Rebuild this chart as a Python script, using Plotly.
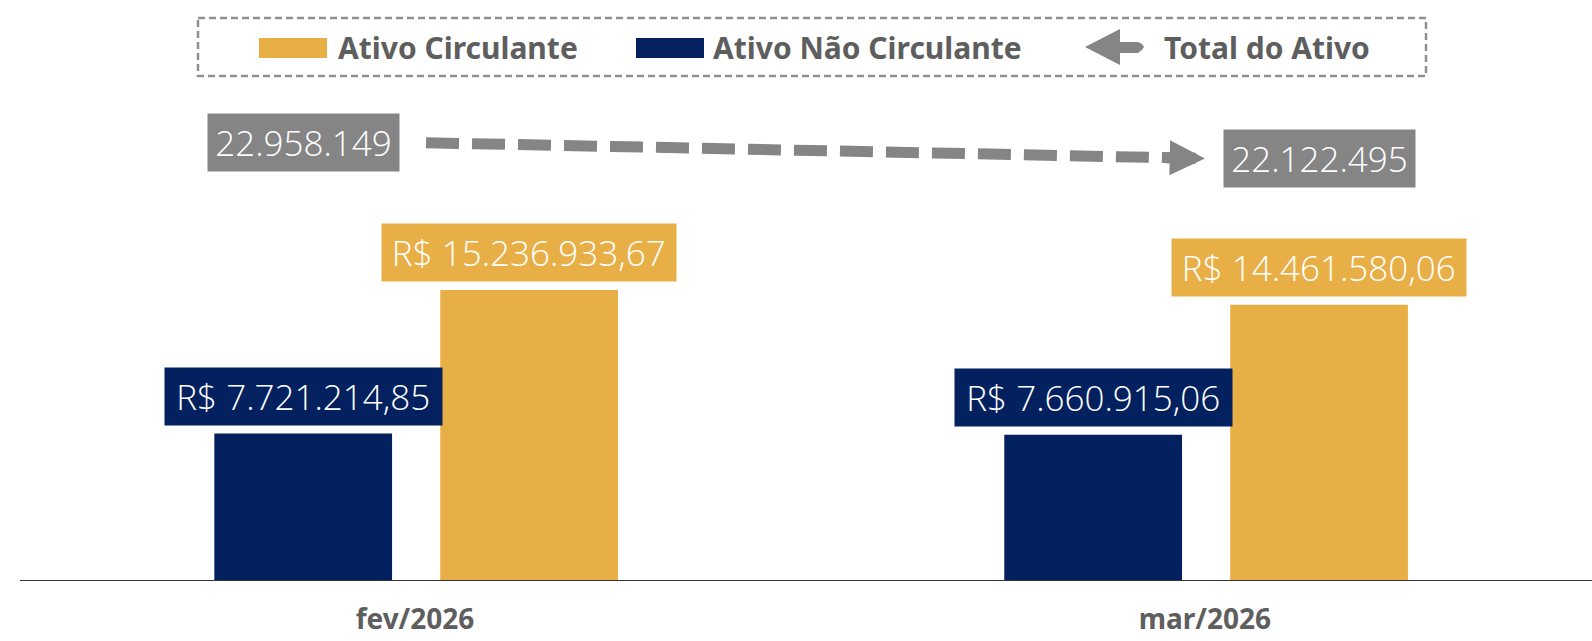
import plotly.graph_objects as go

categories = ["fev/2026", "mar/2026"]
ativo_nao_circulante = [7721214.85, 7660915.06]
ativo_circulante = [15236933.67, 14461580.06]
total_ativo = [22958149, 22122495]

label_nc = ["R$ 7.721.214,85", "R$ 7.660.915,06"]
label_c = ["R$ 15.236.933,67", "R$ 14.461.580,06"]
label_total = ["22.958.149", "22.122.495"]

NAVY = "#03215F"
GOLD = "#E9AF47"
GRAY = "#858585"
TEXT_GRAY = "#5E5E5E"
FONT = "Noto Sans"
LFONT = "Open Sans"

W, H = 1592, 641
ML, MR, MT, MB = 20, 0, 0, 60
PW = W - ML - MR
PH = H - MT - MB

def xp(px):
    return (px - ML) / PW

def yp(py):
    return (H - MB - py) / PH

xs = list(range(len(categories)))
bw = 0.225
off_nc = -0.254
off_c = 0.032

fig = go.Figure()
fig.add_trace(go.Bar(x=xs, y=ativo_nao_circulante, width=bw, offset=off_nc,
                     marker=dict(color=NAVY, line=dict(width=0)), showlegend=False))
fig.add_trace(go.Bar(x=xs, y=ativo_circulante, width=bw, offset=off_c,
                     marker=dict(color=GOLD, line=dict(width=0)), showlegend=False))

# Total line (dashed) from first to second month
def interp(x):
    return total_ativo[0] + (total_ativo[1] - total_ativo[0]) * x
x0, x1 = 0.014, 0.958
fig.add_trace(go.Scatter(x=[x0, x1], y=[interp(x0), interp(x1)], mode="lines",
                         line=dict(color=GRAY, width=11, dash="33px,13px"),
                         showlegend=False, hoverinfo="skip"))

ann = []
# arrow head at the second total
ann.append(dict(x=1, y=total_ativo[1], ax=-40, ay=-0.8, text="", showarrow=True,
                arrowhead=2, arrowwidth=11, arrowsize=0.64, arrowcolor=GRAY, standoff=0))

def box_width(t):
    return 17.1 * len(t) + 10

for i in xs:
    cx_nc = i + off_nc + bw / 2
    cx_c = i + off_c + bw / 2
    ann.append(dict(x=cx_nc, y=ativo_nao_circulante[i], yshift=37, text=label_nc[i],
                    showarrow=False, bgcolor=NAVY, borderpad=5, width=box_width(label_nc[i]),
                    font=dict(family=LFONT, size=35, color="white", weight=300)))
    ann.append(dict(x=cx_c, y=ativo_circulante[i], yshift=37, text=label_c[i],
                    showarrow=False, bgcolor=GOLD, borderpad=5, width=box_width(label_c[i]),
                    font=dict(family=LFONT, size=35, color="white", weight=300)))
# total labels
ann.append(dict(x=0 + off_nc + bw / 2, y=total_ativo[0], text=label_total[0], showarrow=False,
                bgcolor=GRAY, borderpad=5, width=box_width(label_total[0]),
                font=dict(family=LFONT, size=35, color="white", weight=300)))
ann.append(dict(x=1 + off_c + bw / 2, y=total_ativo[1], text=label_total[1], showarrow=False,
                bgcolor=GRAY, borderpad=5, width=box_width(label_total[1]),
                font=dict(family=LFONT, size=35, color="white", weight=300)))

# Legend (manual)
legend_items = ["Ativo Circulante", "Ativo Não Circulante", "Total do Ativo"]
legend_text_x = [336, 711, 1162]
for t, lx in zip(legend_items, legend_text_x):
    ann.append(dict(xref="paper", yref="paper", x=xp(lx), y=yp(48), xanchor="left", yanchor="middle",
                    text="<b>" + t + "</b>", showarrow=False,
                    font=dict(family=FONT, size=30, color=TEXT_GRAY)))

shapes = [
    dict(type="rect", xref="paper", yref="paper", x0=xp(198), x1=xp(1426), y0=yp(18), y1=yp(76),
         line=dict(color="#8F8F8F", width=2.5, dash="7px,4px"), fillcolor="rgba(0,0,0,0)"),
    dict(type="rect", xref="paper", yref="paper", x0=xp(259), x1=xp(327), y0=yp(38), y1=yp(58),
         line=dict(width=0), fillcolor=GOLD),
    dict(type="rect", xref="paper", yref="paper", x0=xp(636), x1=xp(704), y0=yp(38), y1=yp(58),
         line=dict(width=0), fillcolor=NAVY),
]
pts = [(1085, 47), (1120, 29), (1120, 42), (1138, 42), (1142, 44), (1144, 47), (1142, 50),
       (1138, 53), (1120, 53), (1120, 65)]
path = "M " + " L ".join(f"{xp(a):.5f},{yp(b):.5f}" for a, b in pts) + " Z"
shapes.append(dict(type="path", xref="paper", yref="paper", path=path,
                   fillcolor=GRAY, line=dict(width=0)))
shapes.append(dict(type="line", xref="paper", yref="y", x0=0, x1=1, y0=0, y1=0,
                   line=dict(color="#333333", width=2)))

ymax = PH / 19.1 * 1e6
fig.update_layout(
    width=W, height=H,
    margin=dict(l=ML, r=MR, t=MT, b=MB, autoexpand=False),
    plot_bgcolor="white", paper_bgcolor="white",
    barmode="overlay",
    annotations=ann, shapes=shapes,
    xaxis=dict(range=[-0.5, 1.49], tickmode="array", tickvals=xs, ticktext=categories,
               showgrid=False, zeroline=False, showline=False, automargin=False,
               ticks="outside", ticklen=13, tickcolor="rgba(0,0,0,0)",
               tickfont=dict(family=FONT, size=28, color=TEXT_GRAY, weight="bold")),
    yaxis=dict(range=[0, ymax], visible=False, showgrid=False, zeroline=False, automargin=False),
)
fig.write_html("out.html", config={"displayModeBar": False},
               post_script="document.body.style.margin='0px';document.body.style.overflow='hidden';")
